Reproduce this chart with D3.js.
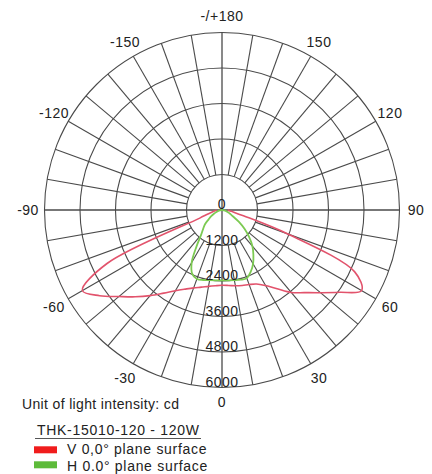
<!DOCTYPE html>
<html>
<head>
<meta charset="utf-8">
<script src="https://cdn.jsdelivr.net/npm/d3@7"></script>
<style>
  html, body { margin: 0; padding: 0; background: #fff; }
  svg { display: block; font-family: "Liberation Sans", Arial, sans-serif; }
</style>
</head>
<body>
<svg id="chart" width="432" height="474"></svg>
<script>
// ---- data ----
const angleTickValues = [0, 30, 60, 90, 120, 150, 180, -150, -120, -90, -60, -30];
const angleTickLabels = ["0", "30", "60", "90", "120", "150", "-/+180", "-150", "-120", "-90", "-60", "-30"];
const ringValues = [1200, 2400, 3600, 4800, 6000];
const ringLabels = ["0", "1200", "2400", "3600", "4800", "6000"];
const ringLabelValues = [0, 1200, 2400, 3600, 4800, 6000];

const curveAngles = [-90, -85, -80, -75, -70, -65, -60, -55, -50, -45, -40, -35, -30, -25, -20, -15, -10, -5,
  0, 5, 10, 15, 20, 25, 30, 35, 40, 45, 50, 55, 60, 65, 70, 75, 80, 85, 90];
const vPlaneValues = [180, 220, 300, 450, 800, 4300, 5450, 5050, 4550, 4150, 3780, 3430, 3150, 2950, 2800, 2700, 2620, 2570,
  2545, 2560, 2600, 2640, 2680, 2760, 2950, 3250, 3640, 3950, 4350, 4850, 5450, 4950, 2350, 750, 380, 250, 200];
const hPlaneValues = [0, 30, 80, 130, 200, 300, 420, 550, 750, 900, 1100, 1500, 2050, 2380, 2480, 2450, 2410, 2385,
  2376, 2385, 2410, 2440, 2450, 2300, 2100, 1850, 1600, 1300, 1000, 700, 420, 300, 200, 130, 80, 30, 0];

const legendTitle = "THK-15010-120 - 120W";
const unitText = "Unit of light intensity: cd";
const seriesNames = ["V 0,0° plane surface", "H 0.0° plane surface"];
const seriesColors = ["#e2536c", "#7cca52"];
const swatchColors = ["#f01c1c", "#5dbb3a"];

// ---- layout ----
const cx = 222, cy = 210, R = 177.5;
const svg = d3.select("#chart");
const r = d3.scaleLinear().domain([0, 6000]).range([0, R]);
const toRad = d => d * Math.PI / 180;
// chart angle: 0 at bottom, positive toward the right side (90 = right)
const px = (deg, rad) => cx + rad * Math.sin(toRad(deg));
const py = (deg, rad) => cy + rad * Math.cos(toRad(deg));

const g = svg.append("g");
const gridColor = "#4a4a4a";

// rings
g.selectAll("circle.ring").data(ringValues).join("circle")
  .attr("cx", cx).attr("cy", cy).attr("r", d => r(d))
  .attr("fill", "none").attr("stroke", gridColor).attr("stroke-width", 1.1);

// spokes every 10 degrees
const spokeAngles = d3.range(0, 360, 10);
g.selectAll("line.spoke").data(spokeAngles.filter(a => a % 90 !== 0)).join("line")
  .attr("x1", a => px(a, r(1200))).attr("y1", a => py(a, r(1200)))
  .attr("x2", a => px(a, R)).attr("y2", a => py(a, R))
  .attr("stroke", gridColor).attr("stroke-width", 1.1);
// main axes through centre
[0, 90].forEach(a => {
  g.append("line")
    .attr("x1", px(a, R)).attr("y1", py(a, R))
    .attr("x2", px(a + 180, R)).attr("y2", py(a + 180, R))
    .attr("stroke", gridColor).attr("stroke-width", 1.3);
});

// curves
const radial = d3.lineRadial()
  .angle(d => Math.PI - toRad(d[0]))
  .radius(d => r(d[1]))
  .curve(d3.curveCatmullRom.alpha(0.5));
const cg = g.append("g").attr("transform", `translate(${cx},${cy})`);
const vData = curveAngles.map((a, i) => [a, vPlaneValues[i]]);
const hData = curveAngles.map((a, i) => [a, hPlaneValues[i]]);
cg.append("path").attr("d", radial(vData)).attr("fill", "none")
  .attr("stroke", seriesColors[0]).attr("stroke-width", 1.6).attr("stroke-linejoin", "round");
cg.append("path").attr("d", radial(hData)).attr("fill", "none")
  .attr("stroke", seriesColors[1]).attr("stroke-width", 1.8).attr("stroke-linejoin", "round");

// ring labels
g.selectAll("text.ringlab").data(ringLabelValues).join("text")
  .attr("x", cx).attr("y", (d, i) => cy + r(d) - 6)
  .attr("text-anchor", "middle").attr("dominant-baseline", "central")
  .attr("font-size", 14).attr("letter-spacing", 0.5).attr("fill", "#222")
  .text((d, i) => ringLabels[i]);

// angle labels
g.selectAll("text.anglab").data(angleTickValues).join("text")
  .attr("x", a => px(a, 194)).attr("y", a => py(a, a === 0 ? 191.5 : 194))
  .attr("text-anchor", "middle").attr("dominant-baseline", "central")
  .attr("font-size", 14).attr("letter-spacing", 0.5).attr("fill", "#222")
  .text((a, i) => angleTickLabels[i]);

// legend
svg.append("text").attr("x", 22).attr("y", 408.5).attr("font-size", 14)
  .attr("letter-spacing", 0.35).attr("fill", "#222").text(unitText);
svg.append("text").attr("x", 37).attr("y", 435).attr("font-size", 14)
  .attr("letter-spacing", 0.7).attr("fill", "#222").text(legendTitle);
svg.append("line").attr("x1", 35).attr("x2", 201).attr("y1", 438.5).attr("y2", 438.5)
  .attr("stroke", "#555").attr("stroke-width", 1);
const legY = [446.3, 461.3];
const textY = [454, 471];
seriesNames.forEach((name, i) => {
  svg.append("rect").attr("x", 34).attr("y", legY[i]).attr("width", 23).attr("height", 7)
    .attr("fill", swatchColors[i]);
  svg.append("text").attr("x", 67).attr("y", textY[i]).attr("font-size", 14)
    .attr("letter-spacing", 0.7).attr("fill", "#222").text(name);
});
</script>
</body>
</html>
